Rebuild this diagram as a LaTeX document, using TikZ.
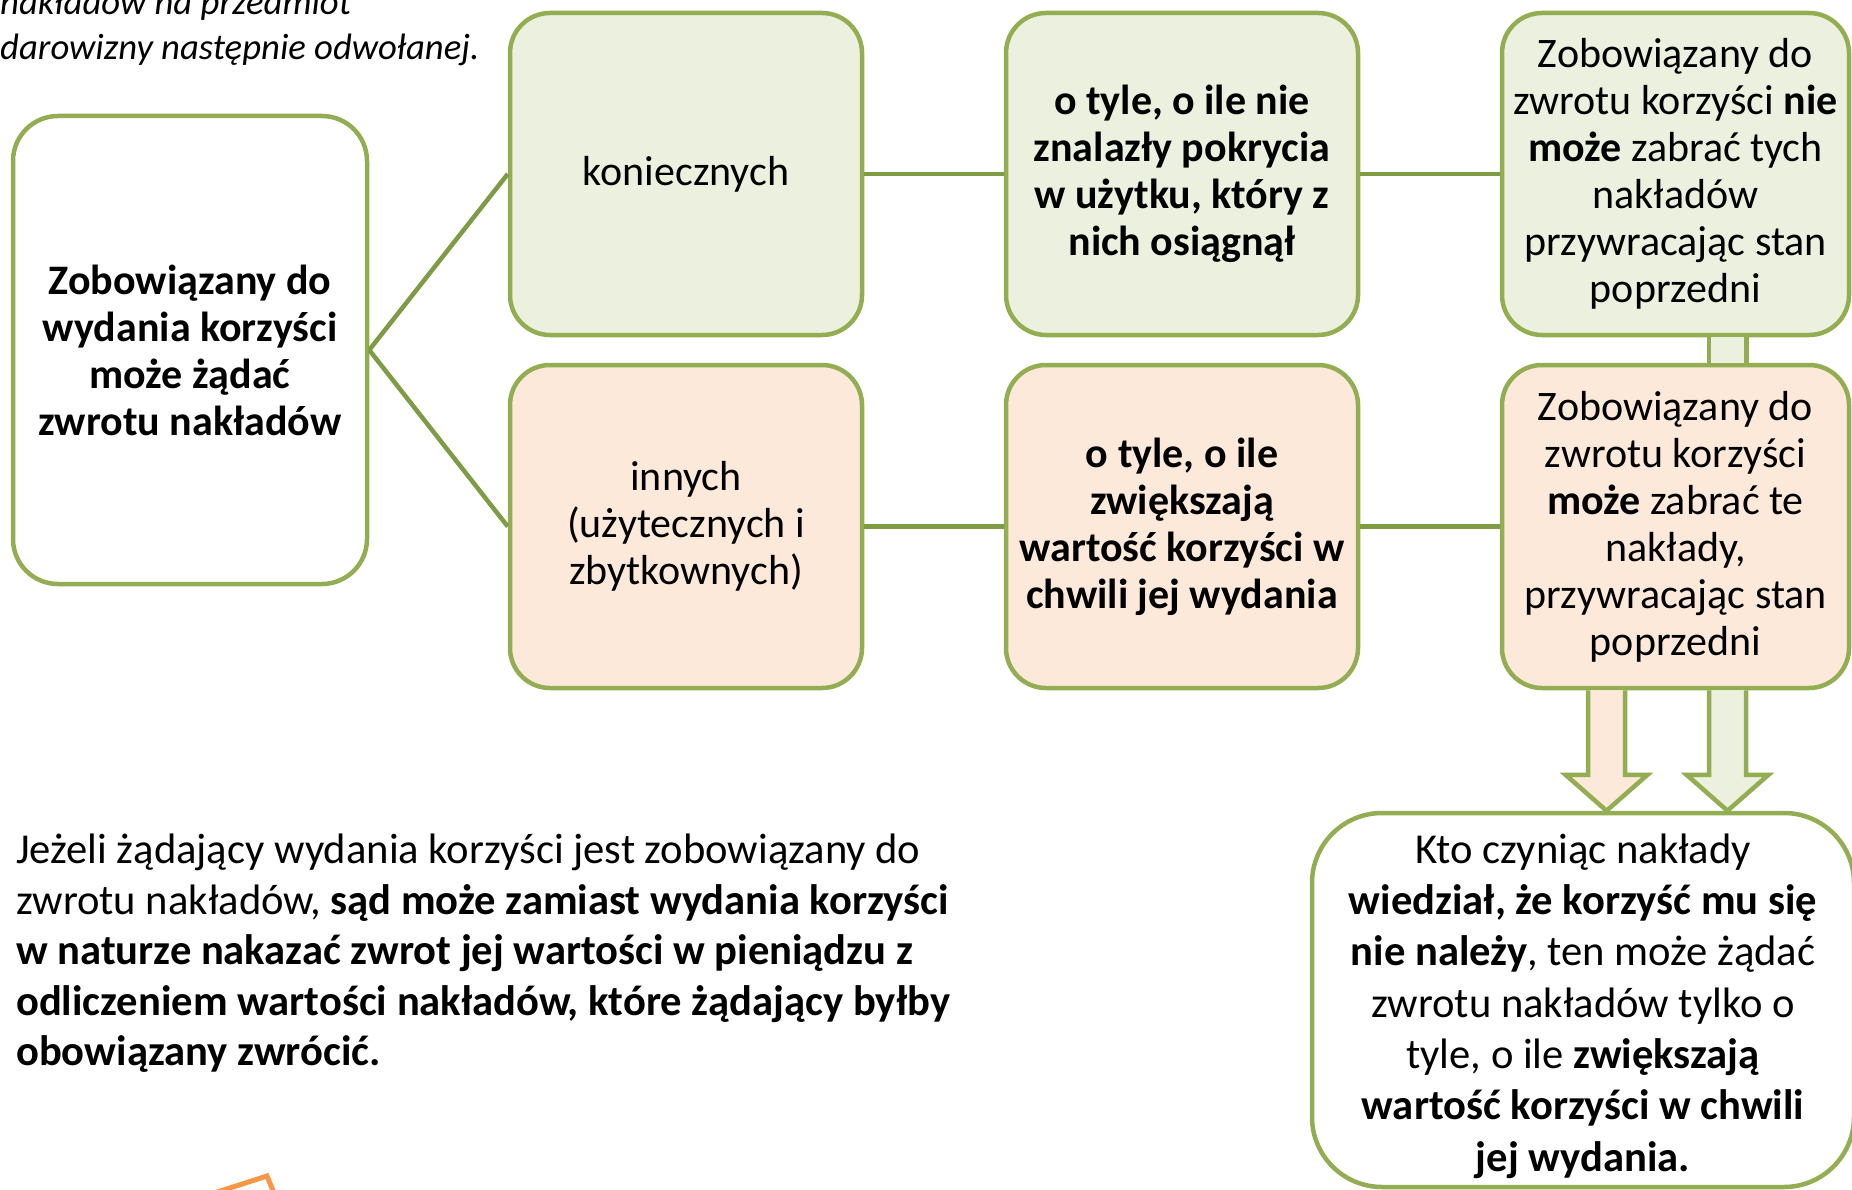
\documentclass[tikz,border=0pt]{standalone}
\usepackage{fontspec}
\setmainfont{Carlito}
\usetikzlibrary{calc}
\definecolor{gborder}{RGB}{146,173,82}
\definecolor{gline}{RGB}{126,155,70}
\definecolor{gfill}{HTML}{EBF1DE}
\definecolor{ofill}{HTML}{FDE9D9}
\definecolor{oline}{HTML}{F79646}
\begin{document}
\begin{tikzpicture}[x=1pt,y=-1pt,
  box/.style={draw=gborder, line width=4.5pt, rounded corners=40pt, align=center,
    inner sep=4pt, font=\fontsize{42}{47}\selectfont},
  conn/.style={draw=gline, line width=4.5pt},
  blk/.style={draw=gborder, line width=4.5pt, line join=miter},
]
\clip (0,0) rectangle (1852,1190);
\fill[white] (0,0) rectangle (1852,1190);

% texts outside boxes (base anchor = baseline of the last line)
\node[anchor=base west, inner sep=0pt, align=left, font=\fontsize{36.7}{45}\selectfont\itshape] (T) at (0,60)
  {nakładów na przedmiot\\darowizny następnie odwołanej.};

\node[anchor=base west, inner sep=0pt, align=left, font=\fontsize{42.6}{50.5}\selectfont] (P) at (16,1065.5)
  {Jeżeli żądający wydania korzyści jest zobowiązany do\\
   zwrotu nakładów, \textbf{sąd może zamiast wydania korzyści}\\
   \textbf{w naturze nakazać zwrot jej wartości w pieniądzu z}\\
   \textbf{odliczeniem wartości nakładów, które żądający byłby}\\
   \textbf{obowiązany zwrócić.}};

% boxes
\node[box, fill=white, rounded corners=45pt, minimum width=354pt, minimum height=468pt] (L) at (190,350)
  {\textbf{Zobowiązany do}\\\textbf{wydania korzyści}\\\textbf{może żądać}\\\textbf{zwrotu nakładów}};

\node[box, fill=gfill, minimum width=352pt, minimum height=322pt] (K) at (686,174) {koniecznych};
\node[box, fill=gfill, minimum width=352pt, minimum height=322pt] (N) at (1182,174)
  {\textbf{o tyle, o ile nie}\\\textbf{znalazły pokrycia}\\\textbf{w użytku, który z}\\\textbf{nich osiągnął}};
\node[box, fill=gfill, minimum width=347pt, minimum height=322pt] (R1) at (1675.5,174)
  {Zobowiązany do\\zwrotu korzyści \textbf{nie}\\\textbf{może} zabrać tych\\nakładów\\przywracając stan\\poprzedni};

\node[box, fill=ofill, minimum width=352pt, minimum height=323pt] (I) at (686,526.5)
  {innych\\(użytecznych i\\zbytkownych)};
\node[box, fill=ofill, minimum width=352pt, minimum height=323pt] (M) at (1182,526.5)
  {\textbf{o tyle, o ile}\\\textbf{zwiększają}\\\textbf{wartość korzyści w}\\\textbf{chwili jej wydania}};
\node[box, fill=ofill, minimum width=347pt, minimum height=323pt] (R2) at (1675.5,526.5)
  {Zobowiązany do\\zwrotu korzyści\\\textbf{może} zabrać te\\nakłady,\\przywracając stan\\poprzedni};

\node[box, fill=white, rounded corners=70pt, minimum width=542pt, minimum height=374pt] (B) at (1583,1000) {};
\node[align=center, inner sep=0pt, font=\fontsize{42.6}{51.3}\selectfont] (Bt) at ($(B.center)+(0,6)$)
  {Kto czyniąc nakłady\\\textbf{wiedział, że korzyść mu się}\\\textbf{nie należy}, ten może żądać\\zwrotu nakładów tylko o\\tyle, o ile \textbf{zwiększają}\\\textbf{wartość korzyści w chwili}\\\textbf{jej wydania.}};

% connectors
\draw[conn] (L.east) -- (K.west);
\draw[conn] (L.east) -- (I.west);
\draw[conn] (K.east) -- (N.west);
\draw[conn] (N.east) -- (R1.west);
\draw[conn] (I.east) -- (M.west);
\draw[conn] (M.east) -- (R2.west);

% small block connector between R1 and R2
\fill[gfill] ($(R1.south)+(33.5,0)$) rectangle ($(R2.north)+(71,0)$);
\draw[blk] ($(R1.south)+(33.5,0)$) -- ($(R2.north)+(33.5,0)$);
\draw[blk] ($(R1.south)+(71,0)$) -- ($(R2.north)+(71,0)$);

% block arrows from R2 to B
\coordinate (a1) at ($(R2.south)+(-69,0)$);
\coordinate (t1) at (a1 |- B.north);
\coordinate (a2) at ($(R2.south)+(52,0)$);
\coordinate (t2) at (a2 |- B.north);
\filldraw[blk, fill=ofill] ($(a1)+(-18.5,0)$) -- ($(a1)+(-18.5,84.5)$) -- ($(a1)+(-41,84.5)$) -- (t1)
  -- ($(a1)+(41,84.5)$) -- ($(a1)+(18.5,84.5)$) -- ($(a1)+(18.5,0)$);
\filldraw[blk, fill=gfill] ($(a2)+(-18.5,0)$) -- ($(a2)+(-18.5,84.5)$) -- ($(a2)+(-41,84.5)$) -- (t2)
  -- ($(a2)+(41,84.5)$) -- ($(a2)+(18.5,84.5)$) -- ($(a2)+(18.5,0)$);

% partial orange shape at bottom left
\draw[oline, line width=5pt, line join=miter] (205,1196) -- (267,1176) -- (276,1198);
\end{tikzpicture}
\end{document}
